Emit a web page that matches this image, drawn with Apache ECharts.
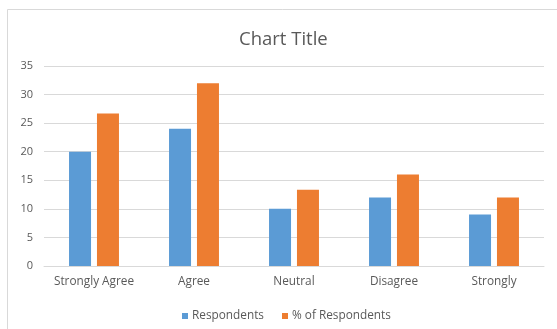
<!DOCTYPE html>
<html>
<head>
<meta charset="utf-8">
<script src="https://cdn.jsdelivr.net/npm/echarts@6/dist/echarts.min.js"></script>
<style>
  html, body { margin: 0; padding: 0; background: #ffffff; }
  #chart { width: 557px; height: 329px; }
</style>
</head>
<body>
<div id="chart"></div>
<script>
// Survey responses per answer, and each answer's share of all respondents
const categories = ['Strongly Agree', 'Agree', 'Neutral', 'Disagree', 'Strongly'];
const respondents = [20, 24, 10, 12, 9];
const percentOfRespondents = [26.67, 32, 13.33, 16, 12];
const seriesNames = ['Respondents', '% of Respondents'];
const yTicks = [0, 5, 10, 15, 20, 25, 30, 35];

const textColor = '#595959';
const font = 'Open Sans';

const chart = echarts.init(document.getElementById('chart'), null, { renderer: 'canvas' });

chart.setOption({
  backgroundColor: '#ffffff',
  animation: false,
  color: ['#5B9BD5', '#ED7D31'],
  title: {
    text: 'Chart Title',
    left: 239,
    top: 30,
    padding: 0,
    textStyle: { color: textColor, fontFamily: font, fontSize: 18.5, fontWeight: 'normal' }
  },
  graphic: [{
    type: 'rect',
    shape: { x: 7.5, y: 9.5, width: 700, height: 500 },
    style: { fill: 'none', stroke: '#D9D9D9', lineWidth: 1 },
    silent: true,
    z: -1
  }],
  legend: {
    data: seriesNames,
    left: 177,
    top: 305,
    itemWidth: 6,
    itemHeight: 6,
    itemGap: 18,
    icon: 'rect',
    textStyle: { color: textColor, fontFamily: font, fontSize: 11.8, padding: [0, 0, 0, -1] }
  },
  grid: { left: 44, right: 13, top: 66, bottom: 63, containLabel: false },
  xAxis: {
    type: 'category',
    data: categories,
    axisLine: { lineStyle: { color: '#D9D9D9', width: 1 } },
    axisTick: { show: false },
    axisLabel: { color: textColor, fontFamily: font, fontSize: 11.8, margin: 10, interval: 0, hideOverlap: false }
  },
  yAxis: {
    type: 'value',
    min: yTicks[0],
    max: yTicks[yTicks.length - 1],
    interval: yTicks[1] - yTicks[0],
    axisLine: { show: false },
    axisTick: { show: false },
    splitLine: { lineStyle: { color: '#D9D9D9', width: 1 } },
    axisLabel: { color: textColor, fontFamily: font, fontSize: 11, margin: 11 }
  },
  series: [
    { name: seriesNames[0], type: 'bar', data: respondents, barWidth: 22, barGap: '27%' },
    { name: seriesNames[1], type: 'bar', data: percentOfRespondents, barWidth: 22, barGap: '27%' }
  ]
});
</script>
</body>
</html>
